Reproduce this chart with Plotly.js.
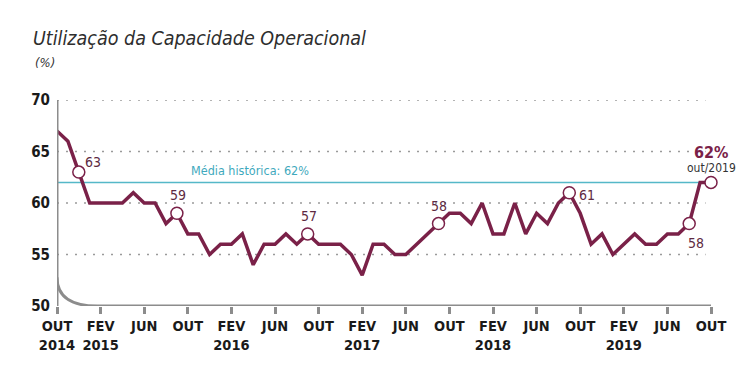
<!DOCTYPE html>
<html><head><meta charset="utf-8">
<script src="https://cdn.plot.ly/plotly-3.0.1.min.js"></script>
<style>html,body{margin:0;padding:0;background:#fff}</style>
</head><body><div id="chart" style="width:747px;height:391px"></div>
<script>
// ---- data ----
const mesAbrev = ['jan','fev','mar','abr','mai','jun','jul','ago','set','out','nov','dez'];
const inicioAno = 2014, inicioMes = 9; // out/2014
const valores = [67,66,63,60,60,60,60,61,60,60,
                 58,59,57,57,55,56,56,57,54,56,
                 56,57,56,57,56,56,56,55,53,56,
                 56,55,55,56,57,58,59,59,58,60,
                 57,57,60,57,59,58,60,61,59,56,
                 57,55,56,57,56,56,57,57,58,62,62];
const mediaHistorica = 62;
const destaques = [2, 11, 23, 35, 47, 58, 60];
const tickTexto = ['OUT<br>2014','FEV<br>2015','JUN','OUT','FEV<br>2016','JUN','OUT','FEV<br>2017',
                   'JUN','OUT','FEV<br>2018','JUN','OUT','FEV<br>2019','JUN','OUT'];
const yTicks = [50,55,60,65,70];
const gradeY = [55,60,65,70];

// ---- derived ----
const idx = valores.map((v,i)=>i);
const meses = idx.map(i => mesAbrev[(inicioMes+i)%12] + '/' + (inicioAno + Math.floor((inicioMes+i)/12)));
const tickVals = tickTexto.map((t,k)=>k*4);

const COR = '#7a2148', CINZA = '#8c8c8c', TEAL = '#55b8c8';
const NARROW = "'Liberation Sans Narrow','DejaVu Sans Condensed','Arial Narrow',sans-serif";

const traces = [
  {x: idx, y: valores, text: meses, type:'scatter', mode:'lines',
   line:{color:COR, width:3.5}, hoverinfo:'text+y', showlegend:false},
  {x: destaques, y: destaques.map(i=>valores[i]), type:'scatter', mode:'markers',
   marker:{symbol:'circle', size:12, color:'#fff', line:{color:COR, width:1.5}},
   hoverinfo:'skip', showlegend:false, cliponaxis:false}
];

// annotation placement styles (positions only)
const estiloRotulo = {
  2:  {xanchor:'left', yanchor:'middle', xshift:4, yshift:10},
  11: {xanchor:'center', yanchor:'bottom', xshift:1, yshift:8},
  23: {xanchor:'center', yanchor:'bottom', xshift:1, yshift:8},
  35: {xanchor:'center', yanchor:'bottom', xshift:0, yshift:8},
  47: {xanchor:'left', yanchor:'middle', xshift:8, yshift:-2},
  58: {xanchor:'center', yanchor:'top', xshift:7, yshift:-9}
};
const annotations = [];
destaques.forEach(i=>{
  if (!estiloRotulo[i]) return;
  annotations.push(Object.assign({x:i, y:valores[i], xref:'x', yref:'y', text:String(valores[i]),
    showarrow:false, font:{family:NARROW, size:14, color:'#5e2a42'}}, estiloRotulo[i]));
});
const ult = valores.length-1;
annotations.push({x:ult, y:valores[ult], xref:'x', yref:'y', text:'<b>'+valores[ult]+'%</b>', showarrow:false,
  xanchor:'center', yanchor:'middle', yshift:30, font:{family:NARROW, size:16, color:COR}});
annotations.push({x:ult, y:valores[ult], xref:'x', yref:'y', text:meses[ult], showarrow:false,
  xanchor:'center', yanchor:'middle', yshift:14, font:{family:NARROW, size:12, color:'#333'}});
annotations.push({x:17.7, y:mediaHistorica, xref:'x', yref:'y', text:'Média histórica: '+mediaHistorica+'%',
  showarrow:false, xanchor:'center', yanchor:'middle', yshift:12, font:{family:NARROW, size:12.5, color:'#3fa9bd'}});
annotations.push({x:-0.0367, y:1.18, xref:'paper', yref:'paper', text:'(%)', showarrow:false,
  xanchor:'left', yanchor:'middle', font:{family:NARROW, size:13, color:'#333', style:'italic'}});

const shapes = [];
gradeY.forEach(g=>shapes.push({type:'line', xref:'x', yref:'y', x0:0, x1:59.5, y0:g, y1:g, layer:'below',
  line:{color:'#9a9a9a', width:1.5, dash:'2px,7px'}}));
shapes.push({type:'line', xref:'x', yref:'y', x0:0, x1:60, y0:mediaHistorica, y1:mediaHistorica, layer:'below',
  line:{color:TEAL, width:1.5}});
shapes.push({type:'line', xref:'x', yref:'y', x0:0, x1:0, y0:50, y1:70, line:{color:CINZA, width:3}});
shapes.push({type:'path', xref:'x', yref:'y', path:'M0,52.8 Q0,50 3.7,50 L60,50',
  line:{color:CINZA, width:3}});

const layout = {
  width:747, height:391,
  margin:{l:57, r:36, t:100, b:85},
  paper_bgcolor:'#fff', plot_bgcolor:'#fff',
  title:{text:'Utilização da Capacidade Operacional', x:33/747, xref:'container', xanchor:'left',
         y:1-38/391, yref:'container', yanchor:'middle',
         font:{family:NARROW, size:19.5, color:'#2e2e2e', style:'italic'}},
  xaxis:{range:[0,60], showgrid:false, zeroline:false, showline:false,
         tickvals:tickVals, ticktext:tickTexto, ticks:'outside', ticklen:7, tickwidth:3, tickcolor:CINZA,
         tickfont:{family:NARROW, size:14.5, color:'#1a1a1a', weight:'bold'}, fixedrange:true},
  yaxis:{range:[50,70], tickvals:yTicks, showgrid:false, zeroline:false, showline:false,
         ticks:'', ticklabelstandoff:6,
         tickfont:{family:NARROW, size:15, color:'#1a1a1a', weight:'bold'}, fixedrange:true},
  shapes:shapes, annotations:annotations, showlegend:false
};
Plotly.newPlot('chart', traces, layout, {displayModeBar:false, staticPlot:true});
</script></body></html>
